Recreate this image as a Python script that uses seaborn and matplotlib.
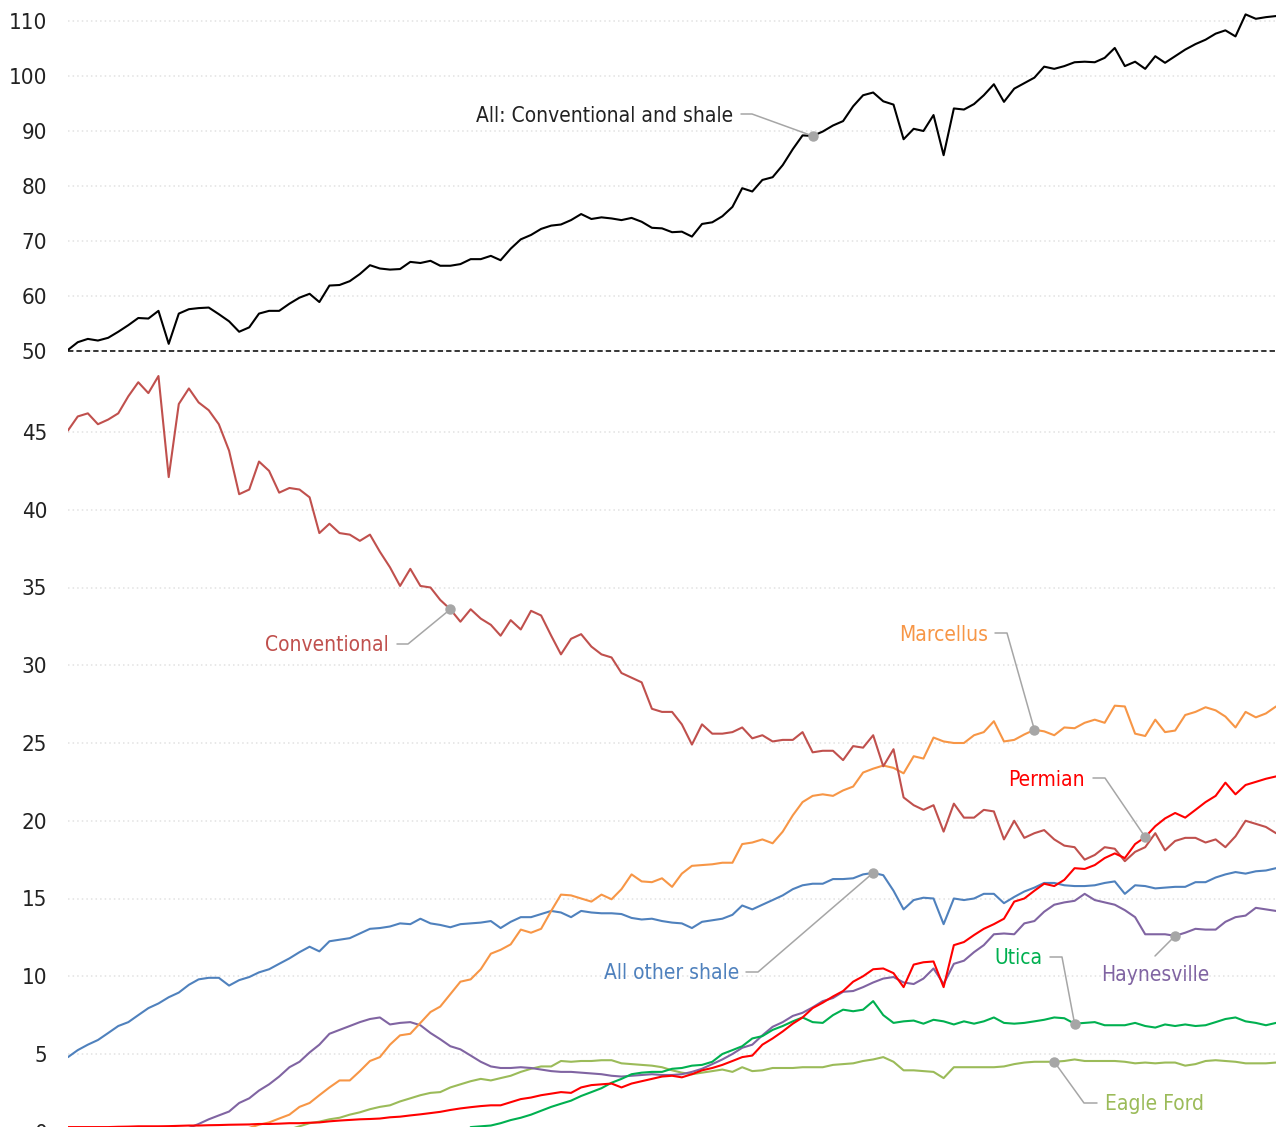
import numpy as np
import pandas as pd
import matplotlib
matplotlib.use("Agg")
import matplotlib.pyplot as plt
import matplotlib.dates as mdates
from matplotlib import font_manager as fm
from matplotlib.lines import Line2D
from matplotlib.transforms import IdentityTransform
import seaborn as sns

# bimonthly samples
dates = pd.date_range("2007-01-01", periods=121, freq="2MS")

all_total = [50.2, 51.6, 52.2, 51.9, 52.4, 53.5, 54.7, 56.0, 55.9, 57.3,
             51.3, 56.8, 57.6, 57.8, 57.9, 56.7, 55.4, 53.5, 54.3, 56.8,
             57.3, 57.3, 58.6, 59.7, 60.4, 58.9, 61.9, 62.0, 62.7, 64.0,
             65.6, 65.0, 64.8, 64.9, 66.2, 66.0, 66.4, 65.5, 65.5, 65.8,
             66.7, 66.7, 67.3, 66.5, 68.6, 70.3, 71.1, 72.2, 72.8, 73.0,
             73.8, 74.9, 74.0, 74.3, 74.1, 73.8, 74.2, 73.5, 72.4, 72.3,
             71.6, 71.7, 70.8, 73.1, 73.4, 74.5, 76.2, 79.6, 79.0, 81.1,
             81.6, 83.8, 86.7, 89.2, 89.1, 89.9, 91.0, 91.8, 94.5, 96.5,
             97.0, 95.4, 94.8, 88.5, 90.4, 90.0, 92.9, 85.6, 94.1, 93.9,
             94.9, 96.5, 98.5, 95.3, 97.7, 98.7, 99.7, 101.7, 101.3, 101.8,
             102.5, 102.6, 102.5, 103.3, 105.1, 101.8, 102.6, 101.3, 103.6, 102.4,
             103.6, 104.8, 105.8, 106.6, 107.7, 108.3, 107.2, 111.2, 110.4, 110.7,
             110.9]

conventional = [45.1, 46.0, 46.2, 45.5, 45.8, 46.2, 47.3, 48.2, 47.5, 48.6,
                42.1, 46.8, 47.8, 46.9, 46.4, 45.5, 43.8, 41.0, 41.3, 43.1,
                42.5, 41.1, 41.4, 41.3, 40.8, 38.5, 39.1, 38.5, 38.4, 38.0,
                38.4, 37.3, 36.3, 35.1, 36.2, 35.1, 35.0, 34.2, 33.6, 32.8,
                33.6, 33.0, 32.6, 31.9, 32.9, 32.3, 33.5, 33.2, 31.9, 30.7,
                31.7, 32.0, 31.2, 30.7, 30.5, 29.5, 29.2, 28.9, 27.2, 27.0,
                27.0, 26.2, 24.9, 26.2, 25.6, 25.6, 25.7, 26.0, 25.3, 25.5,
                25.1, 25.2, 25.2, 25.7, 24.4, 24.5, 24.5, 23.9, 24.8, 24.7,
                25.5, 23.5, 24.6, 21.5, 21.0, 20.7, 21.0, 19.3, 21.1, 20.2,
                20.2, 20.7, 20.6, 18.8, 20.0, 18.9, 19.2, 19.4, 18.8, 18.4,
                18.3, 17.5, 17.8, 18.3, 18.2, 17.4, 18.0, 18.3, 19.2, 18.1,
                18.7, 18.9, 18.9, 18.6, 18.8, 18.3, 19.0, 20.0, 19.8, 19.6,
                19.2]

marcellus = [0, 0, 0, 0, 0, 0, 0, 0, 0, 0,
             0, 0, 0, 0.05, 0.05, 0.05, 0.05, 0.15, 0.25, 0.45,
             0.6, 0.85, 1.1, 1.6, 1.85, 2.35, 2.85, 3.3, 3.3, 3.9,
             4.55, 4.8, 5.6, 6.2, 6.3, 7.0, 7.7, 8.05, 8.85, 9.65,
             9.8, 10.45, 11.45, 11.7, 12.05, 13.0, 12.8, 13.05, 14.2, 15.25,
             15.2, 15.0, 14.8, 15.25, 14.95, 15.6, 16.55, 16.1, 16.05, 16.3,
             15.75, 16.6, 17.1, 17.15, 17.2, 17.3, 17.3, 18.5, 18.6, 18.8,
             18.55, 19.3, 20.35, 21.2, 21.6, 21.7, 21.6, 21.95, 22.2, 23.1,
             23.35, 23.55, 23.4, 23.05, 24.15, 24.0, 25.35, 25.1, 25.0, 25.0,
             25.5, 25.7, 26.4, 25.1, 25.2, 25.55, 25.85, 25.75, 25.5, 26.0,
             25.95, 26.3, 26.5, 26.3, 27.4, 27.35, 25.6, 25.45, 26.5, 25.7,
             25.8, 26.8, 27.0, 27.3, 27.1, 26.7, 26.0, 27.0, 26.65, 26.9,
             27.35]

permian = [0.3, 0.3, 0.3, 0.3, 0.3, 0.32, 0.33, 0.35, 0.35, 0.35,
           0.36, 0.38, 0.4, 0.4, 0.42, 0.43, 0.45, 0.46, 0.47, 0.5,
           0.5, 0.52, 0.55, 0.55, 0.58, 0.6, 0.67, 0.72, 0.76, 0.8,
           0.82, 0.85, 0.93, 0.97, 1.05, 1.12, 1.2, 1.28, 1.4, 1.5,
           1.58, 1.65, 1.7, 1.7, 1.9, 2.1, 2.2, 2.35, 2.45, 2.55,
           2.5, 2.85, 3.0, 3.05, 3.1, 2.85, 3.1, 3.25, 3.4, 3.55,
           3.6, 3.5, 3.7, 3.95, 4.1, 4.3, 4.55, 4.8, 4.9, 5.6,
           6.0, 6.45, 6.95, 7.35, 7.95, 8.3, 8.7, 9.05, 9.65, 10.0,
           10.45, 10.5, 10.2, 9.3, 10.75, 10.9, 10.95, 9.3, 12.0, 12.2,
           12.65, 13.05, 13.35, 13.7, 14.8, 15.0, 15.5, 15.95, 15.8, 16.2,
           16.95, 16.9, 17.15, 17.6, 17.9, 17.6, 18.5, 18.95, 19.65, 20.15,
           20.5, 20.2, 20.7, 21.2, 21.6, 22.45, 21.7, 22.3, 22.5, 22.7,
           22.85]

other_shale = [4.8, 5.25, 5.6, 5.9, 6.35, 6.8, 7.05, 7.5, 7.95, 8.25,
               8.65, 8.95, 9.45, 9.8, 9.9, 9.9, 9.4, 9.75, 9.95, 10.25,
               10.45, 10.8, 11.15, 11.55, 11.9, 11.6, 12.25, 12.35, 12.45, 12.75,
               13.05, 13.1, 13.2, 13.4, 13.35, 13.7, 13.4, 13.3, 13.15, 13.35,
               13.4, 13.45, 13.55, 13.1, 13.5, 13.8, 13.8, 14.0, 14.2, 14.1,
               13.8, 14.2, 14.1, 14.05, 14.05, 14.0, 13.75, 13.65, 13.7, 13.55,
               13.45, 13.4, 13.1, 13.5, 13.6, 13.7, 13.95, 14.55, 14.3, 14.6,
               14.9, 15.2, 15.6, 15.85, 15.95, 15.95, 16.25, 16.25, 16.3, 16.55,
               16.65, 16.5, 15.5, 14.3, 14.9, 15.05, 15.0, 13.35, 15.0, 14.9,
               15.0, 15.3, 15.3, 14.7, 15.1, 15.45, 15.7, 16.0, 16.0, 15.85,
               15.8, 15.8, 15.85, 16.0, 16.1, 15.3, 15.85, 15.8, 15.65, 15.7,
               15.75, 15.75, 16.05, 16.05, 16.35, 16.55, 16.7, 16.6, 16.75, 16.8,
               16.95]

utica = [np.nan] * 40 + [
    0.3, 0.35, 0.4, 0.55, 0.75, 0.9, 1.1, 1.35, 1.6, 1.8,
    2.0, 2.3, 2.55, 2.8, 3.15, 3.4, 3.7, 3.8, 3.85, 3.85,
    4.05, 4.1, 4.25, 4.3, 4.5, 5.0, 5.25, 5.5, 6.0, 6.15,
    6.55, 6.8, 7.1, 7.35, 7.05, 7.0, 7.5, 7.85, 7.75, 7.85,
    8.4, 7.5, 7.0, 7.1, 7.15, 6.95, 7.2, 7.1, 6.9, 7.1,
    6.95, 7.1, 7.35, 7.0, 6.95, 7.0, 7.1, 7.2, 7.35, 7.3,
    6.95, 7.0, 7.05, 6.85, 6.85, 6.85, 7.0, 6.8, 6.7, 6.9,
    6.8, 6.9, 6.8, 6.85, 7.05, 7.25, 7.35, 7.1, 7.0, 6.85,
    7.0]

haynesville = [0.05, 0.05, 0.05, 0.05, 0.05, 0.05, 0.05, 0.05, 0.05, 0.05,
               0.05, 0.05, 0.25, 0.5, 0.8, 1.05, 1.3, 1.85, 2.15, 2.65,
               3.05, 3.55, 4.15, 4.5, 5.1, 5.6, 6.3, 6.55, 6.8, 7.05,
               7.25, 7.35, 6.9, 7.0, 7.05, 6.85, 6.35, 5.95, 5.5, 5.3,
               4.9, 4.5, 4.2, 4.1, 4.1, 4.15, 4.1, 4.0, 3.9, 3.85,
               3.85, 3.8, 3.75, 3.7, 3.6, 3.55, 3.6, 3.65, 3.7, 3.65,
               3.65, 3.7, 3.85, 4.05, 4.35, 4.65, 5.0, 5.4, 5.6, 6.2,
               6.75, 7.05, 7.45, 7.65, 8.0, 8.4, 8.6, 9.0, 9.05, 9.3,
               9.6, 9.85, 9.95, 9.6, 9.5, 9.85, 10.5, 9.5, 10.8, 11.0,
               11.55, 12.0, 12.7, 12.75, 12.7, 13.4, 13.55, 14.15, 14.6, 14.75,
               14.85, 15.3, 14.9, 14.75, 14.6, 14.25, 13.8, 12.7, 12.7, 12.7,
               12.6, 12.8, 13.05, 13.0, 13.0, 13.5, 13.8, 13.9, 14.4, 14.3,
               14.2]

eagle_ford = [0, 0, 0, 0, 0, 0, 0, 0, 0, 0,
              0, 0, 0, 0, 0, 0, 0, 0, 0, 0,
              0, 0, 0.15, 0.35, 0.55, 0.65, 0.8, 0.9, 1.1, 1.25,
              1.45, 1.6, 1.7, 1.95, 2.15, 2.35, 2.5, 2.55, 2.85, 3.05,
              3.25, 3.4, 3.3, 3.45, 3.6, 3.85, 4.05, 4.2, 4.2, 4.55,
              4.5, 4.55, 4.55, 4.6, 4.6, 4.4, 4.35, 4.3, 4.25, 4.15,
              3.95, 3.8, 3.7, 3.8, 3.9, 4.0, 3.85, 4.15, 3.9, 3.95,
              4.1, 4.1, 4.1, 4.15, 4.15, 4.15, 4.3, 4.35, 4.4, 4.55,
              4.65, 4.8, 4.5, 3.95, 3.95, 3.9, 3.85, 3.45, 4.15, 4.15,
              4.15, 4.15, 4.15, 4.2, 4.35, 4.45, 4.5, 4.5, 4.5, 4.55,
              4.65, 4.55, 4.55, 4.55, 4.55, 4.5, 4.4, 4.45, 4.4, 4.45,
              4.45, 4.25, 4.35, 4.55, 4.6, 4.55, 4.5, 4.4, 4.4, 4.4,
              4.45]

series = {
    "Eagle Ford": eagle_ford,
    "Haynesville": haynesville,
    "Utica": utica,
    "All other shale": other_shale,
    "Marcellus": marcellus,
    "Conventional": conventional,
    "Permian": permian,
}
colors = {
    "Conventional": "#C0504D",
    "Marcellus": "#F79646",
    "Permian": "#FF0000",
    "All other shale": "#4F81BD",
    "Utica": "#00B050",
    "Haynesville": "#8064A2",
    "Eagle Ford": "#9BBB59",
}

long_df = pd.concat(
    [pd.DataFrame({"date": dates, "value": v, "play": name}) for name, v in series.items()],
    ignore_index=True,
)
top_df = pd.DataFrame({"date": dates, "value": all_total})

sns.set_style("white")

# the original uses a condensed grotesque: take the closest face installed
rank = {"condensed": 0, "semi-condensed": 1, "extra-condensed": 2}
faces = [f for f in fm.fontManager.ttflist
         if f.style == "normal" and f.weight in (400, "normal", "regular")
         and (f.stretch in rank or "Narrow" in f.name or "Condensed" in f.name)]
faces.sort(key=lambda f: rank.get(f.stretch, 0))
tick_size, label_size = 16, 15
if faces:
    face = faces[0]
    plt.rcParams["font.family"] = [face.name, "DejaVu Sans"]
    plt.rcParams["font.stretch"] = face.stretch
else:
    plt.rcParams["font.family"] = ["Liberation Sans", "DejaVu Sans"]
    tick_size, label_size = 15, 14

W, H = 1281, 1127
fig = plt.figure(figsize=(W / 100, H / 100), dpi=100)


def box(left, top, right, bottom):
    return [left / W, 1 - bottom / H, (right - left) / W, (bottom - top) / H]


ax_top = fig.add_axes(box(68, 0, 1276, 351))
ax_bot = fig.add_axes(box(68, 351, 1276, 1131.75))

sns.lineplot(data=top_df, x="date", y="value", color="black", linewidth=1.5,
             estimator=None, ax=ax_top)
sns.lineplot(data=long_df, x="date", y="value", hue="play", hue_order=list(series),
             palette=colors, linewidth=1.5, estimator=None, legend=False, ax=ax_bot)

ax_top.set_ylim(50, 50 + 351 / 5.5)
ax_bot.set_ylim(0, (1131.75 - 351) / 15.55)
ax_top.set_yticks(range(50, 111, 10))
ax_bot.set_yticks(range(0, 46, 5))

for ax in (ax_top, ax_bot):
    ax.set_xlim(dates[0], dates[-1])
    ax.set_xticks([])
    ax.set_xlabel("")
    ax.set_ylabel("")
    for s in ax.spines.values():
        s.set_visible(False)
    ax.set_axisbelow(True)
    ax.yaxis.grid(True, color="#e2e2e2", linestyle=(0, (1, 2)), linewidth=1.1)
    ax.tick_params(axis="y", length=0, pad=15, labelsize=tick_size, labelcolor="#222222")
    ax.patch.set_alpha(0)

ax_top.axhline(50, color="black", linewidth=1.1, linestyle=(0, (3.5, 2)),
               clip_on=False, zorder=5)

gray = "#a6a6a6"
callouts = [
    (ax_top, all_total, 74, "All: Conventional and shale", "#222222",
     [(752, 114), (741, 114)], (733, 122), "right"),
    (ax_bot, conventional, 38, "Conventional", colors["Conventional"],
     [(408, 644), (397, 644)], (389, 651), "right"),
    (ax_bot, marcellus, 96, "Marcellus", colors["Marcellus"],
     [(1007, 633), (995, 633)], (988, 641), "right"),
    (ax_bot, permian, 107, "Permian", colors["Permian"],
     [(1105, 778), (1093, 778)], (1085, 786), "right"),
    (ax_bot, other_shale, 80, "All other shale", colors["All other shale"],
     [(758, 972), (746, 972)], (739, 979), "right"),
    (ax_bot, utica, 100, "Utica", colors["Utica"],
     [(1062, 957), (1050, 957)], (1043, 964), "right"),
    (ax_bot, haynesville, 110, "Haynesville", colors["Haynesville"],
     [(1155, 956)], (1155, 981), "center"),
    (ax_bot, eagle_ford, 98, "Eagle Ford", colors["Eagle Ford"],
     [(1084, 1103), (1097, 1103)], (1105, 1110), "left"),
]

for ax, vals, k, label, col, pts, txt, ha in callouts:
    dx, dy = ax.transData.transform((mdates.date2num(dates[k]), vals[k]))
    xs = [dx] + [p[0] for p in pts]
    ys = [dy] + [H - p[1] for p in pts]
    fig.add_artist(Line2D(xs, ys, color=gray, linewidth=1.1, transform=IdentityTransform()))
    fig.add_artist(Line2D([dx], [dy], marker="o", markersize=6.5, color=gray,
                          linestyle="none", transform=IdentityTransform()))
    fig.text(txt[0] / W, 1 - txt[1] / H, label, ha=ha, va="baseline",
             color=col, fontsize=label_size)

fig.savefig("out.png", dpi=100)
